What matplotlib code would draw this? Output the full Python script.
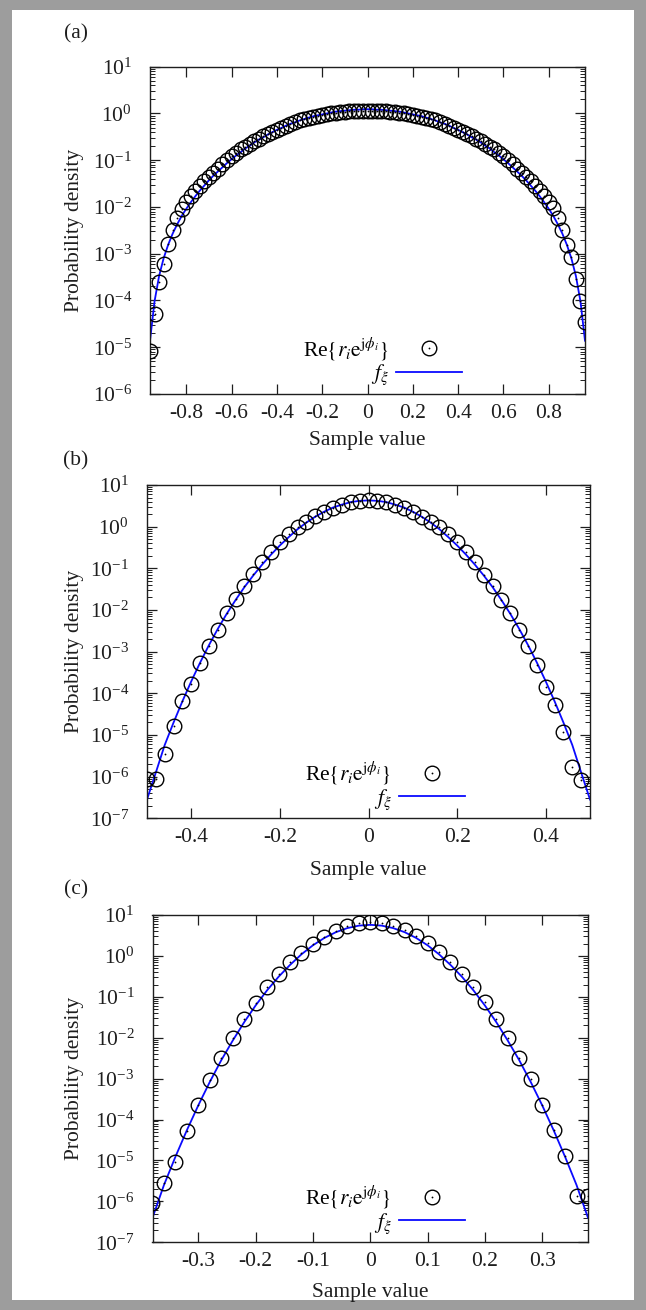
import numpy as np
import matplotlib
matplotlib.use('Agg')
import matplotlib.pyplot as plt
from matplotlib.lines import Line2D
from matplotlib.patches import Rectangle
from matplotlib.ticker import LogLocator, FixedLocator, FormatStrFormatter, NullLocator

plt.rcParams['font.family'] = ['Liberation Serif', 'DejaVu Serif']
plt.rcParams['mathtext.fontset'] = 'stix'
plt.rcParams['axes.unicode_minus'] = False
plt.rcParams['font.size'] = 15.5

# bin centres
xa = np.round(np.arange(-0.96, 0.961, 0.02), 2)
xb = np.round(np.arange(-0.50, 0.501, 0.02), 2)
xc = np.round(np.arange(-0.38, 0.381, 0.02), 2)

# log10 of the histogram of Re{r_i e^{j phi_i}}
ha_log = [-5.07, -4.29, -3.60, -3.23, -2.80, -2.49, -2.24, -2.04, -1.89, -1.77,
          -1.66, -1.55, -1.45, -1.36, -1.27, -1.18, -1.09, -1.00, -0.91, -0.84,
          -0.77, -0.71, -0.65, -0.59, -0.54, -0.49, -0.45, -0.40, -0.36, -0.31,
          -0.27, -0.23, -0.19, -0.15, -0.12, -0.09, -0.07, -0.05, -0.03, -0.01,
          0.00, 0.02, 0.03, 0.04, 0.05, 0.05, 0.06, 0.06,
          0.06,
          0.06, 0.06, 0.05, 0.05, 0.04, 0.03, 0.02, 0.00,
          -0.01, -0.03, -0.05, -0.07, -0.09, -0.12, -0.15, -0.19, -0.23, -0.27,
          -0.31, -0.36, -0.40, -0.45, -0.49, -0.54, -0.59, -0.65, -0.71, -0.77,
          -0.84, -0.91, -1.00, -1.09, -1.18, -1.27, -1.36, -1.45, -1.55, -1.66,
          -1.77, -1.89, -2.03, -2.24, -2.49, -2.81, -3.08, -3.55, -4.02, -4.47]
hb_log = [-6.06, -6.06, -5.46, -4.79, -4.18, -3.77, -3.27, -2.86, -2.47, -2.07,
          -1.74, -1.42, -1.14, -0.86, -0.60, -0.38, -0.17, -0.01, 0.12, 0.26,
          0.36, 0.45, 0.53, 0.58, 0.62,
          0.64,
          0.62, 0.58, 0.52, 0.44, 0.34, 0.23, 0.11, -0.02, -0.18, -0.37,
          -0.61, -0.86, -1.16, -1.42, -1.76, -2.08, -2.48, -2.86, -3.32, -3.84,
          -4.28, -4.94, -5.76, -6.08, np.nan]
hc_log = [-6.05, -5.56, -5.03, -4.28, -3.64, -3.03, -2.50, -2.01, -1.55, -1.14,
          -0.77, -0.45, -0.16, 0.08, 0.29, 0.46, 0.61, 0.73, 0.80,
          0.83,
          0.80, 0.73, 0.63, 0.49, 0.31, 0.10, -0.14, -0.43, -0.75, -1.12,
          -1.55, -2.01, -2.50, -3.02, -3.64, -4.25, -4.89, -5.88, -5.88]

# log10 of the density f_xi
fa_log = [-4.86, -4.02, -3.48, -3.10, -2.81, -2.57, -2.37, -2.19, -2.04, -1.90,
          -1.77, -1.65, -1.54, -1.43, -1.33, -1.24, -1.15, -1.06, -0.98, -0.90,
          -0.83, -0.75, -0.69, -0.62, -0.56, -0.51, -0.45, -0.40, -0.35, -0.31,
          -0.26, -0.22, -0.19, -0.15, -0.12, -0.09, -0.06, -0.04, -0.02, 0.00,
          0.02, 0.04, 0.05, 0.06, 0.07, 0.08, 0.08, 0.09,
          0.09,
          0.09, 0.08, 0.08, 0.07, 0.06, 0.05, 0.04, 0.02,
          0.00, -0.02, -0.04, -0.06, -0.09, -0.12, -0.15, -0.19, -0.22, -0.26,
          -0.31, -0.35, -0.40, -0.45, -0.51, -0.56, -0.62, -0.69, -0.75, -0.83,
          -0.90, -0.98, -1.06, -1.15, -1.24, -1.33, -1.43, -1.54, -1.65, -1.77,
          -1.90, -2.04, -2.19, -2.37, -2.57, -2.81, -3.10, -3.48, -4.02, -4.86]
fb_log = [-6.55, -5.90, -5.24, -4.70, -4.19, -3.71, -3.26, -2.84, -2.45, -2.09,
          -1.76, -1.45, -1.17, -0.91, -0.67, -0.45, -0.25, -0.06, 0.10, 0.24,
          0.36, 0.46, 0.53, 0.59, 0.62,
          0.63,
          0.62, 0.59, 0.53, 0.46, 0.36, 0.24, 0.10, -0.06, -0.25, -0.45,
          -0.67, -0.91, -1.17, -1.45, -1.76, -2.09, -2.45, -2.84, -3.26, -3.71,
          -4.19, -4.70, -5.24, -5.90, -6.55]
fc_log = [-6.40, -5.60, -4.91, -4.26, -3.65, -3.08, -2.55, -2.07, -1.62, -1.21,
          -0.84, -0.51, -0.22, 0.04, 0.26, 0.44, 0.58, 0.68, 0.74,
          0.76,
          0.74, 0.68, 0.58, 0.44, 0.26, 0.04, -0.22, -0.51, -0.84, -1.21,
          -1.62, -2.07, -2.55, -3.08, -3.65, -4.26, -4.91, -5.60, -6.40]

panels = [
    dict(tag='(a)', x=xa, h=ha_log, f=fa_log, xlim=(-0.96, 0.96), ylim=(1e-6, 1e1),
         xticks=[-0.8, -0.6, -0.4, -0.2, 0, 0.2, 0.4, 0.6, 0.8],
         rect=[150, 66.7, 435, 327.3], tag_y=34, xlab_y=440),
    dict(tag='(b)', x=xb, h=hb_log, f=fb_log, xlim=(-0.5, 0.5), ylim=(1e-7, 1e1),
         xticks=[-0.4, -0.2, 0, 0.2, 0.4],
         rect=[147, 485, 443, 333.3], tag_y=461, xlab_y=870),
    dict(tag='(c)', x=xc, h=hc_log, f=fc_log, xlim=(-0.38, 0.38), ylim=(1e-7, 1e1),
         xticks=[-0.3, -0.2, -0.1, 0, 0.1, 0.2, 0.3],
         rect=[152.5, 915, 435.5, 327.3], tag_y=890, xlab_y=1292),
]

W, H = 646, 1310
fig = plt.figure(figsize=(W / 100, H / 100), dpi=100)
fig.patch.set_facecolor('#9d9d9d')
# white sheet inside the grey frame
fig.patches.append(Rectangle((12 / W, 10 / H), 1 - 24 / W, 1 - 20 / H,
                             transform=fig.transFigure, facecolor='white',
                             edgecolor='none', zorder=-10))

ink = '#1e1e1e'
for p in panels:
    l, t, w, h = p['rect']
    ax = fig.add_axes([l / W, 1 - (t + h) / H, w / W, h / H])
    x = p['x']
    dens = 10 ** np.array(p['h'], dtype=float)
    pdf = 10 ** np.array(p['f'], dtype=float)

    ax.plot(x, pdf, color='#0a0aff', lw=1.3, zorder=2)
    ax.plot(x, dens, ls='none', marker='o', ms=10.5, mfc='none', mec='black',
            mew=1.0, zorder=3)
    ax.plot(x, dens, ls='none', marker='o', ms=1.3, mfc='black', mec='black',
            mew=0, zorder=3)

    ax.set_yscale('log')
    ax.set_xlim(*p['xlim'])
    ax.set_ylim(*p['ylim'])
    ax.xaxis.set_major_locator(FixedLocator(p['xticks']))
    ax.xaxis.set_major_formatter(FormatStrFormatter('%g'))
    ax.xaxis.set_minor_locator(NullLocator())
    ax.yaxis.set_major_locator(LogLocator(base=10, numticks=20))
    ax.yaxis.set_minor_locator(LogLocator(base=10, subs=np.arange(2, 10), numticks=20))
    ax.tick_params(which='both', direction='in', top=True, right=True, colors=ink)
    ax.tick_params(which='major', length=7, width=0.9)
    ax.tick_params(which='minor', length=3.5, width=0.7)
    ax.tick_params(axis='x', pad=7)
    ax.tick_params(axis='y', pad=13)
    for s in ax.spines.values():
        s.set_color(ink)
        s.set_linewidth(1.0)

    # legend: label on the left, sample on the right
    circ = Line2D([], [], ls='none', marker='o', ms=10.5, mfc='none', mec='black', mew=1.0)
    dot = Line2D([], [], ls='none', marker='o', ms=1.3, mfc='black', mec='black', mew=0)
    line = Line2D([], [], color='#0a0aff', lw=1.3)
    ax.legend([(circ, dot), line],
              [r'Re$\{r_i\mathrm{e}^{\mathrm{j}\phi_i}\}$', r'$f_\xi$'],
              loc='lower right', bbox_to_anchor=(0.717, 0.02), frameon=False,
              markerfirst=False, handlelength=3.05, handletextpad=0.35,
              labelspacing=0.0, borderpad=0, borderaxespad=0, fontsize=15.5)

    fig.text(76 / W, 1 - p['tag_y'] / H, p['tag'], ha='center', va='center',
             color=ink, fontsize=15.5)
    fig.text(75 / W, 1 - (t + h / 2) / H, 'Probability density', rotation=90,
             ha='center', va='center', color=ink, fontsize=15.5)
    fig.text((l + w / 2) / W, 1 - p['xlab_y'] / H, 'Sample value',
             ha='center', va='center', color=ink, fontsize=15.5)

fig.savefig('out.png', dpi=100, facecolor=fig.get_facecolor())
